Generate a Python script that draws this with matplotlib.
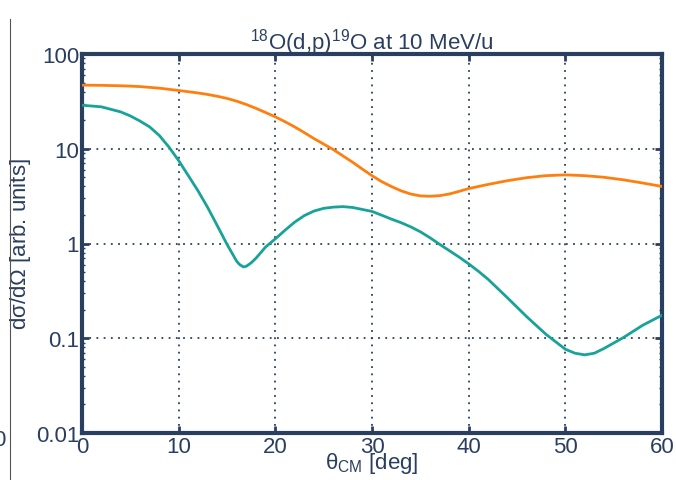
import numpy as np
import matplotlib
matplotlib.use("Agg")
import matplotlib.pyplot as plt
from matplotlib.ticker import FixedLocator, LogLocator, NullFormatter

# Data
theta_orange = [0, 2, 4, 5, 6, 8, 10, 12, 13, 14, 15, 16, 17, 18, 19, 20, 21, 22, 23,
                24, 25, 26, 27, 28, 29, 30, 31, 32, 33, 34, 35, 36, 37, 38, 39, 40,
                42, 44, 46, 48, 50, 52, 54, 56, 58, 60]
xs_orange = [46.9, 46.7, 46.2, 45.8, 45.3, 43.6, 41.2, 38.8, 37.4, 35.8, 34.0, 31.8,
             29.3, 26.7, 24.1, 21.7, 19.3, 17, 14.8, 12.8, 11.2, 9.8, 8.4, 7.2, 6.1,
             5.2, 4.5, 4.0, 3.6, 3.33, 3.18, 3.15, 3.2, 3.33, 3.55, 3.8, 4.2, 4.6,
             4.95, 5.2, 5.3, 5.2, 5.0, 4.7, 4.35, 4.0]

theta_teal = [0, 2, 4, 5, 6, 7, 8, 9, 10, 11, 12, 13, 14, 15, 16, 16.3, 16.7, 17,
              17.5, 18, 19, 20, 21, 22, 23, 24, 25, 26, 27, 28, 30, 31, 32, 33, 34,
              35, 36, 37, 38, 39, 40, 41, 42, 44, 46, 48, 50, 51, 52, 53, 54, 56,
              58, 60]
xs_teal = [28.8, 27.7, 24.5, 22.2, 19.6, 17.0, 13.8, 10.4, 7.5, 5.2, 3.6, 2.4, 1.54,
           0.98, 0.65, 0.6, 0.566, 0.575, 0.625, 0.70, 0.92, 1.12, 1.38, 1.68, 1.97,
           2.2, 2.35, 2.42, 2.45, 2.4, 2.18, 1.99, 1.81, 1.66, 1.5, 1.33, 1.15, 0.98,
           0.84, 0.72, 0.61, 0.51, 0.42, 0.268, 0.169, 0.11, 0.0766, 0.0695, 0.0668,
           0.0695, 0.078, 0.1016, 0.137, 0.175]

x_ticks = [0, 10, 20, 30, 40, 50, 60]
y_ticks = [0.01, 0.1, 1, 10, 100]
y_labels = ["0.01", "0.1", "1", "10", "100"]

navy = "#2a3f5f"
plt.rcParams['font.family'] = ['Liberation Sans', 'DejaVu Sans']

fig = plt.figure(figsize=(6.76, 4.81), dpi=100)
ax = fig.add_axes([82/676, 1 - 434/481, 580/676, 379/481])

ax.plot(theta_orange, xs_orange, color="#ff7f0e", lw=2, zorder=3)
ax.plot(theta_teal, xs_teal, color="#17a398", lw=2, zorder=3)

ax.set_yscale("log")
ax.set_xlim(0, 60)
ax.set_ylim(0.01, 100)
ax.xaxis.set_major_locator(FixedLocator(x_ticks))
ax.set_yticks(y_ticks)
ax.set_yticklabels(y_labels)
ax.yaxis.set_minor_locator(LogLocator(base=10, subs=np.arange(2, 10)))
ax.yaxis.set_minor_formatter(NullFormatter())

ax.grid(True, which="major", color=navy, linestyle=(0, (1, 3)), lw=1.3)
for s in ax.spines.values():
    s.set_color(navy)
    s.set_linewidth(3)

ax.tick_params(which="major", direction="in", length=5, width=2, color=navy,
               top=True, right=True, labelsize=16, labelcolor=navy, pad=2)
ax.tick_params(which="minor", direction="in", length=2.5, width=1, color=navy,
               right=True)

ax.set_title(r"$^{\mathregular{18}}$O(d,p)$^{\mathregular{19}}$O at 10 MeV/u",
             fontsize=16, color=navy, pad=4)
ax.set_xlabel(r"$\mathregular{\theta_{CM}}$ [deg]", fontsize=16, color=navy, labelpad=-5)
ax.set_ylabel(r"d$\mathregular{\sigma}$/d$\mathregular{\Omega}$ [arb. units]",
              fontsize=16, color=navy, labelpad=2)

# remnants of the neighbouring panel at the left edge
fig.add_artist(plt.Line2D([10/676, 10/676], [0, 1 - 20/481], color="#555555", lw=0.8))
fig.text(-7/676, 1 - 441/481, "0", fontsize=16, color=navy, va="center", ha="left")

fig.savefig("out.png", dpi=100)
